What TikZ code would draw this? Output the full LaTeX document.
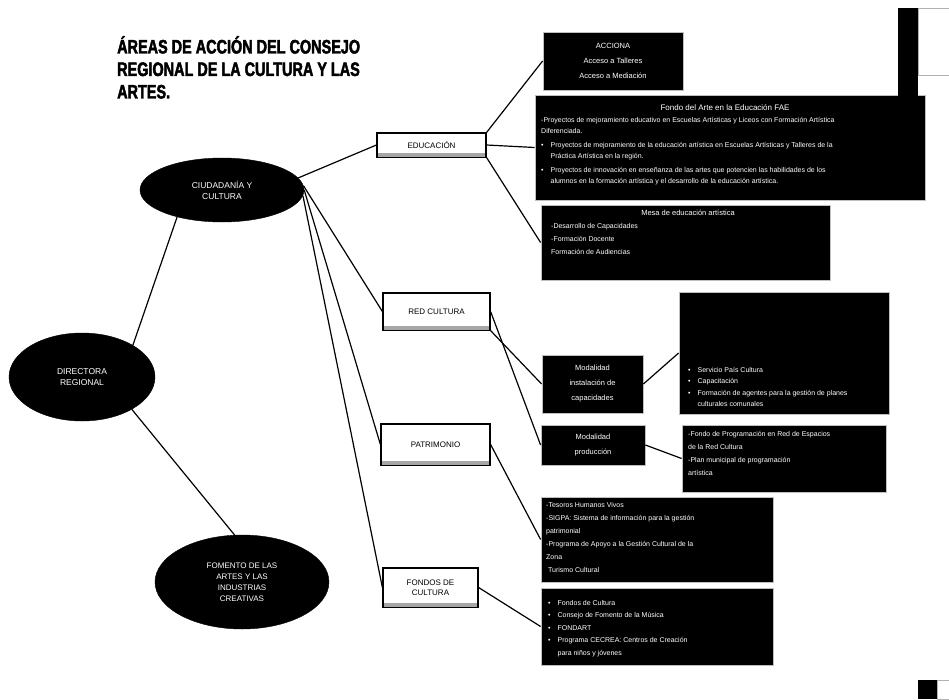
\documentclass[tikz,border=0pt]{standalone}
\usepackage{fontspec}
\setmainfont{Liberation Sans}
\newfontfamily\titlefont{Liberation Sans}[FakeStretch=0.74,FakeBold=2.2]
\usetikzlibrary{shapes.geometric}
\begin{document}
\begin{tikzpicture}[x=1pt,y=-1pt,
 ell/.style={ellipse, fill=black, draw=black, text=white, inner sep=0pt, align=center, font=\fontsize{8.5}{11}\selectfont},
 wbox/.style={rectangle, fill=white, draw=black, line width=1.2pt, inner sep=0pt, align=center, font=\fontsize{8}{10}\selectfont},
 shade/.style={fill=gray!70},
 bbox/.style={rectangle, fill=black, draw=gray!50, line width=0.8pt, inner sep=0pt, text=white, align=center, font=\fontsize{7.5}{10}\selectfont},
 btext/.style={text=white, inner sep=0pt, align=left, font=\fontsize{7}{11}\selectfont},
 link/.style={draw=black, line width=1.2pt}
]
\fill[white] (0,0) rectangle (949,699);
\useasboundingbox (0,0) rectangle (949,699);

% title
\node[anchor=north west, inner sep=0pt, align=left, font=\titlefont\bfseries\fontsize{19.5}{22.5}\selectfont] (title) at (117,36)
 {ÁREAS DE ACCIÓN DEL CONSEJO\\REGIONAL DE LA CULTURA Y LAS\\ARTES.};

% ellipses
\node[ell, minimum width=164, minimum height=64] (cc) at (222,190) {CIUDADANÍA Y\\CULTURA};
\node[ell, minimum width=146, minimum height=88] (dr) at (82,377) {DIRECTORA\\REGIONAL};
\node[ell, minimum width=174, minimum height=94, font=\fontsize{8}{11}\selectfont] (fo) at (242,582) {FOMENTO DE LAS\\ARTES Y LAS\\INDUSTRIAS\\CREATIVAS};

% white boxes
\node[wbox, minimum width=109, minimum height=24] (w1) at (431.5,145) {EDUCACIÓN};
\node[wbox, minimum width=107, minimum height=37] (w2) at (436.5,311.5) {RED CULTURA};
\node[wbox, minimum width=109, minimum height=41] (w3) at (435.5,444.5) {PATRIMONIO};
\node[wbox, minimum width=95, minimum height=39] (w4) at (430.5,587.5) {FONDOS DE\\CULTURA};
\foreach \w in {w1,w2,w3,w4}{
  \fill[shade] ([xshift=1.5pt,yshift=1pt]\w.south west) rectangle ([xshift=-1.5pt,yshift=5pt]\w.south east);
}

% black boxes
\node[bbox, minimum width=140, minimum height=58, font=\fontsize{7.5}{15}\selectfont] (a) at (613,61)
 {ACCIONA\\Acceso a Talleres\\Acceso a Mediación};

\node[bbox, minimum width=390, minimum height=105] (b) at (730,147.5) {};
\node[btext, font=\fontsize{8}{10}\selectfont] (bt) at (725,108) {Fondo del Arte en la Educación FAE};
\node[btext, anchor=north west] (bb) at (541,117)
 {-Proyectos de mejoramiento educativo en Escuelas Artísticas y Liceos con Formación Artística\\
  Diferenciada.\\[3pt]
  •\quad Proyectos de mejoramiento de la educación artística en Escuelas Artísticas y Talleres de la\\
  \phantom{•\quad}Práctica Artística en la región.\\[3pt]
  •\quad Proyectos de innovación en enseñanza de las artes que potencien las habilidades de los\\
  \phantom{•\quad}alumnos en la formación artística y el desarrollo de la educación artística.};

\node[bbox, minimum width=289, minimum height=75] (c) at (685.5,242.5) {};
\node[btext, font=\fontsize{7.5}{10}\selectfont] (ct) at (688,213) {Mesa de educación artística};
\node[btext, anchor=north west, font=\fontsize{7}{13}\selectfont] (cb) at (551,223)
 {-Desarrollo de Capacidades\\-Formación Docente\\Formación de Audiencias};

\node[bbox, minimum width=210, minimum height=122] (d) at (784,353) {};
\node[btext, anchor=south west, font=\fontsize{7}{11.5}\selectfont] (db) at (688,407)
 {•\quad Servicio País Cultura\\•\quad Capacitación\\•\quad Formación de agentes para la gestión de planes\\\phantom{•\quad}culturales comunales};

\node[bbox, minimum width=101, minimum height=58, font=\fontsize{7.5}{15}\selectfont] (e) at (592.5,384)
 {Modalidad\\instalación de\\capacidades};
\node[bbox, minimum width=104, minimum height=40, font=\fontsize{7.5}{15}\selectfont] (f) at (593,445)
 {Modalidad\\producción};

\node[bbox, minimum width=204, minimum height=67] (g) at (784,458.5) {};
\node[btext, anchor=north west, font=\fontsize{7}{13}\selectfont] (gb) at (688,431)
 {-Fondo de Programación en Red de Espacios\\de la Red Cultura\\-Plan municipal de programación\\artística};

\node[bbox, minimum width=232, minimum height=85] (h) at (657,539.5) {};
\node[btext, anchor=north west, font=\fontsize{7}{13}\selectfont] (hb) at (546,502)
 {-Tesoros Humanos Vivos\\-SIGPA: Sistema de información para la gestión\\patrimonial\\-Programa de Apoyo a la Gestión Cultural de la\\Zona\\\ Turismo Cultural};

\node[bbox, minimum width=232, minimum height=77] (i) at (657,626.5) {};
\node[btext, anchor=north west, font=\fontsize{7}{12.5}\selectfont] (ib) at (548,600)
 {•\quad Fondos de Cultura\\•\quad Consejo de Fomento de la Música\\•\quad FONDART\\•\quad Programa CECREA: Centros de Creación\\\phantom{•\quad}para niños y jóvenes};

% cut-off shapes at the right edge
\fill[black] (898,8) rectangle (918,96);
\draw[gray!60, fill=white] (918,8) rectangle (949,75);
\fill[black] (918,680) rectangle (937,699);
\draw[gray!60, fill=white] (937,680) rectangle (949,699);

% connectors
\draw[link] (dr.32) -- (cc.211);
\draw[link] (dr.-33) -- (fo.99);
\draw[link] (cc.9) -- (w1.west);
\draw[link] (cc.3) -- (w2.west);
\draw[link] (cc.0) -- (w3.west);
\draw[link] (cc.-4) -- (w4.west);
\draw[link] (w1.north east) -- (a.west);
\draw[link] (w1.east) -- (b.west);
\draw[link] (w1.south east) -- (c.west);
\draw[link] (w2.south east) -- (e.west);
\draw[link] (w2.east) -- (f.west);
\draw[link] (w3.east) -- (h.west);
\draw[link] (w4.east) -- (i.west);
\draw[link] (e.east) -- (d.west);
\draw[link] (f.east) -- (g.west);
\end{tikzpicture}
\end{document}
